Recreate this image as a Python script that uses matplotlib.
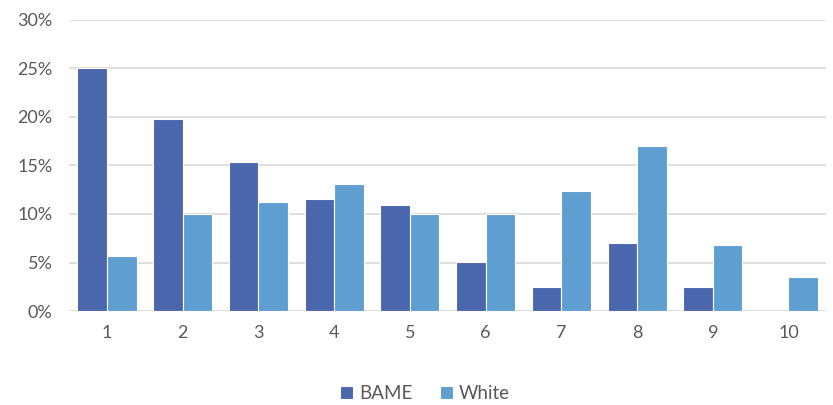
import numpy as np
import matplotlib
matplotlib.use('Agg')
import matplotlib.pyplot as plt
from matplotlib.ticker import PercentFormatter

plt.rcParams['font.family'] = ['Lato', 'DejaVu Sans']
plt.rcParams['font.size'] = 13

categories = ['1', '2', '3', '4', '5', '6', '7', '8', '9', '10']
bame = [25.0, 19.8, 15.4, 11.5, 10.9, 5.1, 2.5, 7.0, 2.5, 0.0]
white = [5.7, 10.0, 11.2, 13.1, 10.0, 10.0, 12.4, 17.0, 6.8, 3.5]

fig = plt.figure(figsize=(8.33, 4.05), dpi=100)
ax = fig.add_axes([0.083, 0.232, 0.909, 0.719])

x = np.arange(len(categories))
w = 0.39
ax.bar(x - w / 2, bame, w, color='#4A66AC', edgecolor='white', linewidth=0.8, label='BAME', zorder=3)
ax.bar(x + w / 2, white, w, color='#5F9ED1', edgecolor='white', linewidth=0.8, label='White', zorder=3)

ax.set_ylim(0, 30)
ax.set_yticks(range(0, 31, 5))
ax.yaxis.set_major_formatter(PercentFormatter(decimals=0))
ax.set_xticks(x)
ax.set_xticklabels(categories)
ax.set_xlim(-0.5, len(categories) - 0.5)

ax.grid(axis='y', color='#D9D9D9', linewidth=1.2, zorder=0)
for s in ax.spines.values():
    s.set_visible(False)
ax.tick_params(length=0, colors='#595959', labelsize=13)
ax.tick_params(axis='y', pad=12)
ax.tick_params(axis='x', pad=10)

ax.legend(loc='upper center', bbox_to_anchor=(0.47, -0.195), ncol=2, frameon=False,
          handlelength=0.7, handleheight=0.7, handletextpad=0.3, columnspacing=1.5,
          labelcolor='#595959', fontsize=13.5)

fig.savefig('out.png', dpi=100)
